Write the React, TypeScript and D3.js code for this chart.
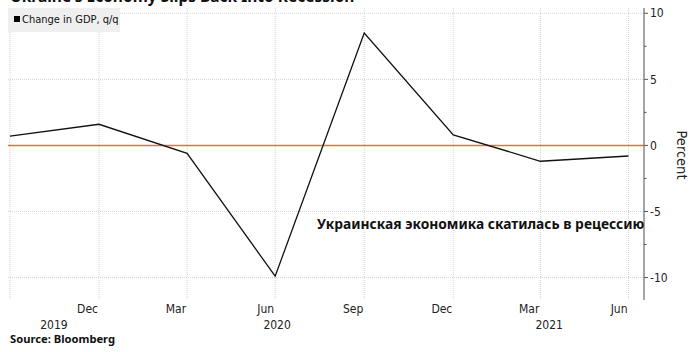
import React, { useEffect, useRef } from "react";
import * as d3 from "d3";

// quarter-end dates and GDP change, q/q (%)
const quarters = ["2019-09-30", "2019-12-31", "2020-03-31", "2020-06-30", "2020-09-30", "2020-12-31", "2021-03-31", "2021-06-30"];
const gdpChange = [0.7, 1.6, -0.6, -9.9, 8.5, 0.8, -1.2, -0.8];
const yTicks = [10, 5, 0, -5, -10];
const years = ["2019", "2020", "2021"];

const title = "Ukraine's Economy Slips Back Into Recession";
const legendLabel = "Change in GDP, q/q";
const annotation = "Украинская экономика скатилась в рецессию";
const axisTitle = "Percent";
const source = "Source: Bloomberg";

const App = () => {
  const svgRef = useRef<SVGSVGElement>(null);

  useEffect(() => {
    const W = 700;
    const H = 352;
    const margin = { top: 8, right: 56, bottom: 52, left: 8 };
    const x0 = margin.left;
    const x1 = W - margin.right;
    const y0 = margin.top;
    const y1 = H - margin.bottom;
    const svg = d3.select(svgRef.current);
    svg.selectAll("*").remove();

    const parse = d3.timeParse("%Y-%m-%d");
    const dates = quarters.map((q) => parse(q) as Date);

    const xScale = d3.scaleTime().domain([new Date(2019, 8, 28), new Date(2021, 6, 16)]).range([x0, x1]);
    const yScale = d3.scaleLinear().domain([-11.7, 10.4]).range([y1, y0]);
    const tickFont = "'DejaVu Sans Condensed', 'DejaVu Sans', sans-serif";

    // title, cut off at the top edge
    svg.append("text")
      .attr("x", 10).attr("y", 2)
      .attr("font-family", "'Noto Sans', sans-serif")
      .attr("font-weight", "bold").attr("font-size", 15.5)
      .attr("fill", "#111")
      .text(title);

    // gridlines
    svg.append("g").selectAll("line")
      .data(yTicks.filter((d) => d !== 0))
      .enter().append("line")
      .attr("x1", x0).attr("x2", x1)
      .attr("y1", (d) => yScale(d)).attr("y2", (d) => yScale(d))
      .attr("stroke", "#d4d4d4").attr("stroke-dasharray", "1,1");

    svg.append("g").selectAll("line")
      .data(dates)
      .enter().append("line")
      .attr("x1", (d) => xScale(d)).attr("x2", (d) => xScale(d))
      .attr("y1", y0).attr("y2", y1)
      .attr("stroke", "#d4d4d4").attr("stroke-dasharray", "1,1");

    // legend
    svg.append("rect")
      .attr("x", 8).attr("y", 8).attr("width", 112).attr("height", 24)
      .attr("fill", "#efefef");
    svg.append("rect")
      .attr("x", 14).attr("y", 16).attr("width", 6).attr("height", 6)
      .attr("fill", "#000");
    svg.append("text")
      .attr("x", 22).attr("y", 23)
      .attr("font-family", tickFont).attr("font-size", 11)
      .attr("fill", "#111")
      .text(legendLabel);

    // zero line
    svg.append("line")
      .attr("x1", x0).attr("x2", x1)
      .attr("y1", yScale(0)).attr("y2", yScale(0))
      .attr("stroke", "#f07028").attr("stroke-width", 1.5);

    // series
    const line = d3.line<number>()
      .x((d, i) => xScale(dates[i]))
      .y((d) => yScale(d));
    svg.append("path")
      .datum(gdpChange)
      .attr("d", line)
      .attr("fill", "none")
      .attr("stroke", "#111")
      .attr("stroke-width", 1.3);

    // right axis
    svg.append("line")
      .attr("x1", x1).attr("x2", x1)
      .attr("y1", y0).attr("y2", y1)
      .attr("stroke", "#888").attr("stroke-width", 1.5);
    svg.append("g").selectAll("line")
      .data(d3.range(-10, 10.01, 2.5))
      .enter().append("line")
      .attr("x1", x1).attr("x2", (d) => x1 + (d % 5 === 0 ? 4 : 2.5))
      .attr("y1", (d) => yScale(d)).attr("y2", (d) => yScale(d))
      .attr("stroke", "#555");
    svg.append("g").selectAll("text")
      .data(yTicks)
      .enter().append("text")
      .attr("x", x1 + 6)
      .attr("y", (d) => yScale(d))
      .attr("dy", "0.35em")
      .attr("font-family", tickFont).attr("font-size", 12)
      .attr("fill", "#222")
      .text((d) => (d < 0 ? "-" + Math.abs(d) : String(d)));

    svg.append("text")
      .attr("transform", `translate(${x1 + 33},${(y0 + y1) / 2 + 1}) rotate(90)`)
      .attr("text-anchor", "middle")
      .attr("font-family", tickFont).attr("font-size", 14.5)
      .attr("fill", "#222")
      .text(axisTitle);

    // month labels
    svg.append("g").selectAll("text")
      .data(dates.slice(1))
      .enter().append("text")
      .attr("x", (d) => xScale(d) - 1)
      .attr("y", y1 + 13)
      .attr("text-anchor", "end")
      .attr("font-family", tickFont).attr("font-size", 12)
      .attr("fill", "#222")
      .text((d) => d3.timeFormat("%b")(d));

    // year labels centred in the visible part of each year
    svg.append("g").selectAll("text")
      .data(years)
      .enter().append("text")
      .attr("x", (d) => {
        const [a, b] = xScale.domain();
        const s = new Date(+d, 0, 1) < a ? a : new Date(+d, 0, 1);
        const e = new Date(+d + 1, 0, 1) > b ? b : new Date(+d + 1, 0, 1);
        return (xScale(s) + xScale(e)) / 2;
      })
      .attr("y", y1 + 29)
      .attr("text-anchor", "middle")
      .attr("font-family", tickFont).attr("font-size", 12)
      .attr("fill", "#222")
      .text((d) => d);

    // annotation
    svg.append("text")
      .attr("x", 317).attr("y", 229)
      .attr("font-family", "'Noto Sans', sans-serif")
      .attr("font-weight", "bold").attr("font-size", 13.8)
      .attr("fill", "#111")
      .text(annotation);

    svg.append("text")
      .attr("x", 10).attr("y", 343)
      .attr("font-family", "'Noto Sans', sans-serif")
      .attr("font-weight", "bold").attr("font-size", 11.2)
      .attr("fill", "#111")
      .text(source);
  }, []);

  return (
    <svg ref={svgRef} width={700} height={352} style={{ position: "absolute", left: 0, top: 0, background: "#fff" }}></svg>
  );
};

export default App;
